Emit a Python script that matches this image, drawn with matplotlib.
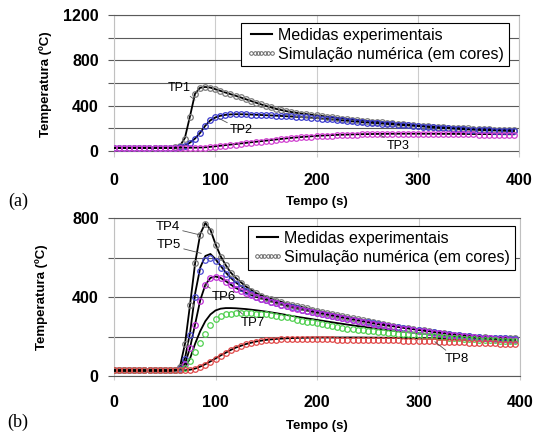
import numpy as np
import matplotlib
matplotlib.use("Agg")
import matplotlib.pyplot as plt
from matplotlib.lines import Line2D

plt.rcParams['font.family'] = ['Liberation Sans', 'DejaVu Sans']

# %% Data (time in s, temperature in ºC)
t_sim = [0, 5, 10, 15, 20, 25, 30, 35, 40, 45, 50, 55,
         60, 65, 70, 75, 80, 85, 90, 95, 100, 105, 110, 115,
         120, 125, 130, 135, 140, 145, 150, 155, 160, 165, 170, 175,
         180, 185, 190, 195, 200, 205, 210, 215, 220, 225, 230, 235,
         240, 245, 250, 255, 260, 265, 270, 275, 280, 285, 290, 295,
         300, 305, 310, 315, 320, 325, 330, 335, 340, 345, 350, 355,
         360, 365, 370, 375, 380, 385, 390, 395]

t_exp = [0, 30, 55, 60, 65, 70, 75, 80, 85, 90, 95, 100, 105, 110, 115, 120,
         130, 140, 150, 160, 170, 180, 200, 220, 240, 260, 280, 300, 320, 340,
         360, 380, 395]

# panel (a)
tp1_sim = [28, 28, 28, 28, 28, 28, 28, 28, 28, 28, 28, 29,
           32, 42, 110, 300, 500, 560, 567, 560, 545, 530, 515, 502,
           488, 474, 458, 442, 427, 413, 398, 385, 372, 361, 352, 343,
           336, 330, 324, 319, 314, 308, 303, 297, 292, 287, 282, 277,
           273, 268, 264, 260, 256, 252, 248, 244, 240, 236, 232, 228,
           225, 221, 218, 215, 212, 209, 207, 205, 203, 200, 199, 197,
           195, 193, 191, 190, 189, 188, 186, 185]
tp1_exp = [28, 28, 29, 32, 45, 115, 305, 505, 558, 565, 560, 546, 531, 516, 502, 488,
           458, 427, 398, 372, 352, 337, 315, 293, 274, 257, 241, 226, 213, 204,
           196, 190, 186]

tp2_sim = [28, 28, 28, 28, 28, 28, 28, 28, 28, 28, 28, 29,
           30, 33, 45, 70, 105, 155, 220, 270, 297, 312, 320, 324,
           325, 325, 324, 322, 320, 318, 316, 314, 312, 309, 307, 305,
           302, 300, 298, 295, 291, 287, 283, 279, 275, 271, 266, 262,
           258, 254, 251, 248, 245, 241, 238, 235, 232, 229, 226, 223,
           220, 216, 212, 208, 205, 202, 200, 197, 195, 192, 190, 188,
           186, 184, 183, 181, 180, 178, 177, 176]
tp2_exp = [28, 28, 29, 30, 35, 48, 74, 110, 160, 222, 270, 296, 311, 319, 323, 325,
           324, 320, 316, 312, 307, 302, 291, 275, 258, 245, 232, 220, 205, 195,
           186, 180, 176]

tp3_sim = [28, 28, 28, 28, 28, 28, 28, 28, 28, 28, 28, 28,
           28, 28, 28, 28, 29, 30, 31, 33, 37, 42, 47, 52,
           57, 62, 67, 72, 77, 82, 87, 92, 97, 102, 107, 112,
           116, 120, 124, 127, 130, 133, 135, 137, 139, 141, 143, 144,
           145, 146, 147, 148, 148, 149, 149, 150, 150, 150, 150, 150,
           150, 150, 150, 149, 149, 149, 148, 148, 147, 147, 146, 146,
           145, 145, 144, 144, 143, 143, 142, 142]
tp3_exp = [28, 28, 28, 28, 28, 28, 29, 30, 31, 33, 37, 42, 47, 52, 57, 62,
           72, 82, 92, 102, 112, 120, 134, 143, 148, 151, 153, 153, 152, 151,
           150, 149, 148]

# panel (b)
tp4_sim = [28, 28, 28, 28, 28, 28, 28, 28, 28, 28, 28, 28,
           30, 45, 160, 360, 570, 715, 770, 735, 665, 605, 560, 522,
           495, 471, 451, 433, 419, 406, 397, 389, 381, 374, 367, 360,
           354, 348, 342, 336, 330, 324, 319, 314, 309, 304, 299, 294,
           287, 282, 277, 272, 267, 262, 257, 253, 249, 245, 241, 238,
           235, 231, 227, 223, 219, 216, 213, 210, 207, 204, 202, 200,
           198, 197, 195, 194, 193, 192, 191, 190]
tp4_exp = [28, 28, 28, 31, 48, 165, 365, 575, 720, 775, 740, 668, 607, 562, 524, 497,
           453, 420, 398, 382, 368, 355, 331, 310, 289, 268, 250, 236, 221, 209,
           199, 194, 191]

tp5_sim = [28, 28, 28, 28, 28, 28, 28, 28, 28, 28, 28, 28,
           29, 36, 85, 210, 400, 530, 590, 600, 580, 548, 515, 488,
           465, 445, 428, 414, 402, 392, 383, 375, 368, 361, 354, 348,
           342, 336, 330, 324, 319, 313, 308, 303, 298, 293, 289, 284,
           280, 275, 271, 267, 262, 258, 254, 250, 246, 242, 239, 235,
           232, 228, 225, 221, 218, 215, 212, 209, 206, 204, 201, 199,
           197, 195, 194, 192, 191, 190, 189, 188]
tp5_exp = [28, 28, 28, 30, 38, 92, 222, 420, 550, 608, 618, 592, 558, 525, 497, 474,
           437, 411, 393, 378, 364, 350, 327, 306, 287, 268, 251, 236, 222, 210,
           200, 194, 191]

tp6_sim = [28, 28, 28, 28, 28, 28, 28, 28, 28, 28, 28, 28,
           29, 32, 60, 140, 260, 380, 460, 495, 503, 495, 478, 460,
           443, 430, 418, 408, 399, 391, 384, 377, 368, 360, 353, 346,
           340, 334, 328, 323, 318, 313, 308, 303, 298, 293, 289, 285,
           278, 273, 268, 264, 260, 256, 252, 248, 244, 240, 236, 233,
           230, 226, 222, 219, 216, 213, 210, 207, 204, 201, 199, 197,
           195, 193, 191, 189, 187, 186, 184, 183]
tp6_exp = [28, 28, 28, 29, 33, 62, 145, 265, 385, 462, 497, 504, 497, 481, 463, 446,
           421, 401, 386, 370, 355, 342, 320, 300, 281, 262, 248, 233, 220, 208,
           198, 190, 186]

tp7_sim = [28, 28, 28, 28, 28, 28, 28, 28, 28, 28, 28, 28,
           28, 30, 42, 75, 120, 165, 215, 258, 288, 304, 312, 316,
           319, 320, 319, 318, 316, 314, 312, 309, 305, 301, 297, 293,
           286, 281, 276, 271, 266, 261, 256, 252, 248, 244, 240, 237,
           234, 231, 228, 226, 223, 221, 219, 217, 215, 213, 211, 209,
           207, 205, 203, 201, 199, 197, 195, 193, 191, 189, 187, 185,
           184, 182, 181, 180, 179, 178, 177, 176]
tp7_exp = [28, 28, 28, 28, 30, 45, 90, 165, 228, 278, 312, 332, 341, 344, 344, 343,
           339, 333, 326, 318, 309, 300, 284, 268, 253, 239, 227, 216, 206, 198,
           192, 187, 184]

tp8_sim = [28, 28, 28, 28, 28, 28, 28, 28, 28, 28, 28, 28,
           28, 28, 29, 31, 36, 45, 58, 72, 88, 103, 118, 131,
           143, 152, 160, 166, 173, 177, 180, 182, 184, 185, 185, 185,
           185, 185, 185, 185, 185, 185, 185, 185, 184, 184, 184, 184,
           183, 183, 183, 182, 182, 181, 181, 180, 180, 179, 179, 178,
           177, 177, 176, 175, 174, 174, 173, 172, 171, 170, 169, 168,
           167, 166, 165, 165, 164, 163, 162, 161]
tp8_exp = [28, 28, 28, 28, 28, 29, 32, 38, 48, 60, 74, 89, 104, 118, 132, 144,
           162, 175, 183, 188, 191, 193, 195, 195, 195, 194, 193, 191, 188, 185,
           182, 179, 177]

top_sim = [tp1_sim, tp2_sim, tp3_sim]
top_exp = [tp1_exp, tp2_exp, tp3_exp]
top_colors = ['#7a7a7a', '#3a3acc', '#d040d0']

bot_sim = [tp4_sim, tp5_sim, tp6_sim, tp7_sim, tp8_sim]
bot_exp = [tp4_exp, tp5_exp, tp6_exp, tp7_exp, tp8_exp]
bot_colors = ['#7a7a7a', '#4a4ad4', '#c030d8', '#50d050', '#e04848']

# curve labels: (text, text position, point on the curve)
top_labels = [('TP1', (64, 560), (80, 450)),
              ('TP2', (126, 185), (103, 291)),
              ('TP3', (281, 44), (263, 141))]
bot_labels = [('TP4', (53, 754), (85, 714)),
              ('TP5', (54, 663), (86, 621)),
              ('TP6', (108, 400), (90, 461)),
              ('TP7', (137, 268), (122, 334)),
              ('TP8', (338, 86), (316, 174))]

legend_labels = ['Medidas experimentais', 'Simulação numérica (em cores)']

# %% Figure
fig = plt.figure(figsize=(5.36, 4.32), dpi=100)
ax_a = fig.add_axes([0.2127, 0.6451, 0.7556, 0.3202])
ax_b = fig.add_axes([0.2127, 0.1296, 0.7575, 0.3657])


def style_axes(ax, ymin, ymax, major, minor):
    ax.set_xlim(0, 400)
    ax.set_ylim(ymin, ymax)
    ax.set_xticks([0, 100, 200, 300, 400])
    ax.set_yticks(major)
    ax.set_yticks(minor, minor=True)
    ax.grid(axis='y', which='both', color='#5a5a5a', lw=0.8, zorder=0)
    ax.grid(axis='x', which='major', color='#cccccc', lw=0.8, zorder=0)
    ax.set_axisbelow(True)
    ax.tick_params(axis='y', which='both', direction='out', length=4,
                   color='#5a5a5a', width=0.8, pad=7)
    ax.tick_params(axis='x', direction='out', length=3, color='#cccccc',
                   width=0.8, pad=11)
    for lab in ax.get_xticklabels() + ax.get_yticklabels():
        lab.set_fontweight('bold')
        lab.set_fontsize(11.5)
    ax.spines['top'].set_color('#5a5a5a')
    ax.spines['left'].set_color('#c0c0c0')
    ax.spines['right'].set_color('#c0c0c0')
    ax.set_xlabel('Tempo (s)', fontsize=9.5, fontweight='bold')
    ax.set_ylabel('Temperatura (ºC)', fontsize=9.5, fontweight='bold')


def draw_curves(ax, sims, exps, colors):
    for exp in exps:
        ax.plot(t_exp, exp, color='black', lw=1.3, zorder=3)
    for sim, c in zip(sims, colors):
        ax.plot(t_sim, sim, ls='none', marker='o', ms=4, mfc='none',
                mec=c, mew=0.9, zorder=4)


def draw_labels(ax, labels, fs):
    for txt, pos, pt in labels:
        ax.annotate(txt, xy=pt, xytext=pos, ha='center', va='center',
                    fontsize=fs, zorder=6,
                    arrowprops=dict(arrowstyle='-', color='#555555', lw=0.6,
                                    shrinkA=0, shrinkB=0))


def draw_legend(ax, anchor):
    handles = [Line2D([], [], color='black', lw=1.5),
               Line2D([], [], ls='none', marker='o', ms=2.6, mfc='none',
                      mec='#666666', mew=0.7)]
    leg = ax.legend(handles, legend_labels, loc='upper right',
                    bbox_to_anchor=anchor, fontsize=11.5, numpoints=7,
                    handlelength=1.9, handletextpad=0.1, labelspacing=0.25,
                    borderpad=0.3, borderaxespad=0, fancybox=False,
                    framealpha=1, edgecolor='black')
    leg.get_frame().set_linewidth(0.8)
    leg.set_zorder(7)


# panel (a)
style_axes(ax_a, -20, 1200, [0, 400, 800, 1200], [200, 600, 1000])
ax_a.spines['bottom'].set_visible(False)
draw_curves(ax_a, top_sim, top_exp, top_colors)
draw_labels(ax_a, top_labels, 9)
draw_legend(ax_a, (0.975, 0.943))
ax_a.xaxis.set_label_coords(0.5, -0.31)
ax_a.yaxis.set_label_coords(-0.153, 0.5)

# panel (b)
style_axes(ax_b, 0, 800, [0, 400, 800], [200, 600])
ax_b.spines['bottom'].set_color('#5a5a5a')
draw_curves(ax_b, bot_sim, bot_exp, bot_colors)
draw_labels(ax_b, bot_labels, 9.5)
draw_legend(ax_b, (0.988, 0.949))
ax_b.xaxis.set_label_coords(0.5, -0.278)
ax_b.yaxis.set_label_coords(-0.163, 0.5)

fig.text(0.034, 0.535, '(a)', family='Liberation Serif', fontsize=13,
         ha='center', va='center')
fig.text(0.034, 0.023, '(b)', family='Liberation Serif', fontsize=13,
         ha='center', va='center')

fig.savefig('out.png', dpi=100)
plt.close(fig)
